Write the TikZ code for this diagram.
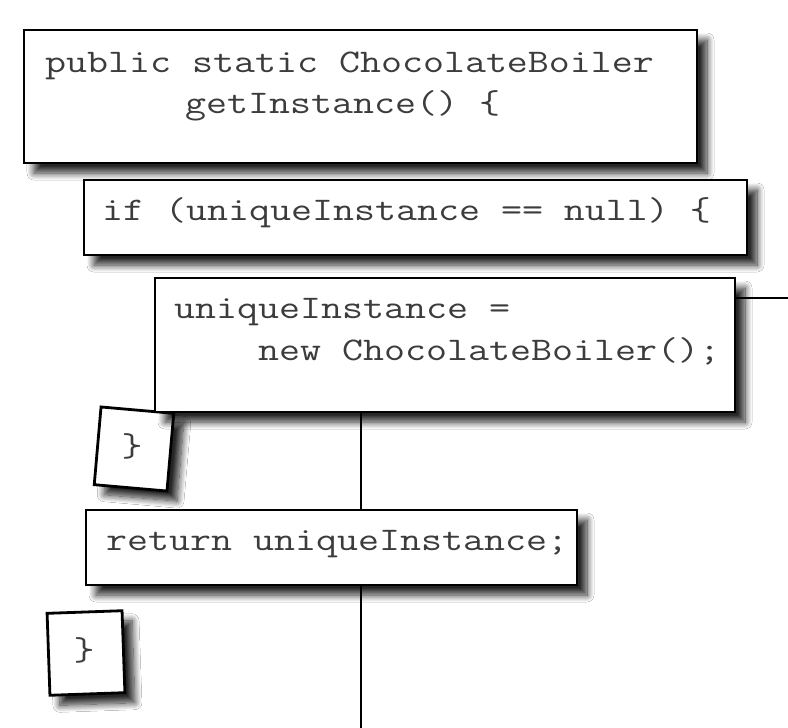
\documentclass[tikz,border=0pt]{standalone}
\usetikzlibrary{shadows.blur}
\definecolor{codegray}{HTML}{3C3C3C}
\tikzset{
  codebox/.style={draw=black, line width=2.8pt, fill=white, inner sep=0pt,
    blur shadow={shadow xshift=10pt, shadow yshift=-10pt, shadow blur radius=7pt,
      shadow blur steps=12, shadow opacity=85}},
  codetext/.style={anchor=base west, inner sep=0pt, text=codegray, xscale=1.235,
    font=\ttfamily\fontsize{33}{41}\selectfont},
  wire/.style={draw=black, line width=2.4pt}
}
\begin{document}
\begin{tikzpicture}[x=1pt,y=-1pt]
\useasboundingbox[fill=white] (0,0) rectangle (788,728);
% box 1
\node[codebox, minimum width=673pt, minimum height=133pt] (B1) at (360.5,96.5) {};
\node[codetext] (T1a) at (45,72) {public static ChocolateBoiler};
\node[codetext] (T1b) at (185,113) {getInstance() \{};
% box 2
\node[codebox, minimum width=663pt, minimum height=75pt] (B2) at (415.5,217.5) {};
\node[codetext] (T2) at (102,220) {if (uniqueInstance == null) \{};
% small box 1
\node[codebox, minimum width=73pt, minimum height=78pt, rotate=-5] (S1) at (134,449) {};
\node[codetext, anchor=center] (S1t) at (132,446) {\}};
% box 3
\node[codebox, minimum width=580pt, minimum height=134pt] (B3) at (445,345) {};
\node[codetext] (T3a) at (174,318) {uniqueInstance =};
\node[codetext] (T3b) at (258,360) {new ChocolateBoiler();};
% box 4
\node[codebox, minimum width=491pt, minimum height=75pt] (B4) at (331.5,547.5) {};
\node[codetext] (T4) at (106,550) {return uniqueInstance;};
% small box 2
\node[codebox, minimum width=75pt, minimum height=82pt, rotate=2] (S2) at (86,653) {};
\node[codetext, anchor=center] (S2t) at (84,650) {\}};
% connectors
\coordinate (Cout) at (788,298);
\coordinate (Cbot) at (361,728);
\draw[wire] (B3.east |- Cout) -- (Cout);
\draw[wire] (B3.south -| Cbot) -- (B4.north -| Cbot);
\draw[wire] (B4.south -| Cbot) -- (Cbot);
\end{tikzpicture}
\end{document}
